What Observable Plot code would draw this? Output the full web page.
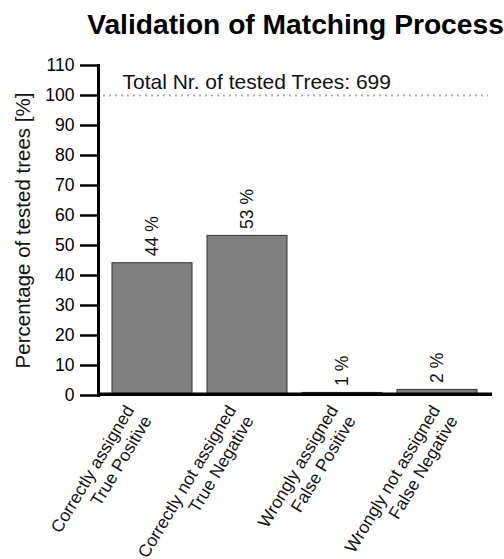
<!DOCTYPE html>
<html>
<head>
<meta charset="utf-8">
<script src="https://cdn.jsdelivr.net/npm/d3@7"></script>
<script src="https://cdn.jsdelivr.net/npm/@observablehq/plot@0.6"></script>
<style>
  html, body { margin: 0; padding: 0; background: white; }
  #wrap { position: relative; width: 504px; height: 559px; }
  #wrap svg { position: absolute; top: 0; left: 0; }
</style>
</head>
<body>
<div id="wrap"></div>
<script>
const categories = [
  "Correctly assigned\nTrue Positive",
  "Correctly not assigned\nTrue Negative",
  "Wrongly assigned\nFalse Positive",
  "Wrongly not assigned\nFalse Negative"
];
const values = [44.1, 53.2, 0.86, 1.86];
const valueLabels = ["44 %", "53 %", "1 %", "2 %"];
const yTicks = [0, 10, 20, 30, 40, 50, 60, 70, 80, 90, 100, 110];
const referenceLine = [100];
const titleText = "Validation of Matching Process";
const totalText = "Total Nr. of tested Trees: 699";
const yLabelText = "Percentage of tested trees [%]";

const data = categories.map((c, i) => ({category: c, value: values[i], label: valueLabels[i]}));
const font = "'Liberation Sans', Arial, sans-serif";

const chart = Plot.plot({
  width: 504,
  height: 559,
  marginTop: 65,
  marginBottom: 164,
  marginLeft: 98,
  marginRight: 12,
  style: {fontFamily: font, background: "white", color: "black"},
  x: {domain: categories, paddingInner: 0.153, paddingOuter: 0.14, axis: null},
  y: {domain: [0, 110], axis: null},
  marks: [
    Plot.ruleY(referenceLine, {stroke: "#aaa", strokeWidth: 2, strokeDasharray: "2,4", insetLeft: 5, insetRight: 4}),
    Plot.barY(data, {x: "category", y: "value", fill: "#808080", stroke: "#333", strokeWidth: 1}),
    Plot.ruleY([0], {stroke: "black", strokeWidth: 3.5, dy: -1.2}),
    Plot.frame({anchor: "left", stroke: "black", strokeWidth: 3}),
    Plot.axisY({ticks: yTicks, tickSize: 18, tickPadding: 6, strokeWidth: 2.5, fontSize: 17.5, label: null}),
    Plot.text(data, {x: "category", y: "value", text: "label", rotate: -90, textAnchor: "start", dy: -7, fontSize: 17.5, fill: "#111"}),
    Plot.text([titleText], {frameAnchor: "top", lineAnchor: "top", dy: -52, fontSize: 28.2, fontWeight: "bold", fill: "black"}),
    Plot.text([totalText], {frameAnchor: "top-left", lineAnchor: "top", dx: 24, dy: 9, textAnchor: "start", fontSize: 21, fill: "#111"}),
    Plot.text([yLabelText], {frameAnchor: "left", rotate: -90, textAnchor: "middle", lineAnchor: "middle", dx: -75, fontSize: 20.5, fill: "#111"})
  ]
});

// category labels sit on their own evenly spaced point scale, wider than the bar spacing
const labels = Plot.plot({
  width: 504,
  height: 559,
  marginTop: 402,
  marginBottom: 0,
  marginLeft: 121,
  marginRight: 75,
  style: {fontFamily: font, background: "transparent", color: "black"},
  x: {type: "point", domain: categories, padding: 0, axis: null},
  marks: [
    Plot.text(categories, {x: d => d, text: d => d, frameAnchor: "top", rotate: -59, textAnchor: "end", lineAnchor: "top", lineHeight: 1.16, fontSize: 17.5, fill: "#111"})
  ]
});

const wrap = document.getElementById("wrap");
wrap.appendChild(chart);
wrap.appendChild(labels);
</script>
</body>
</html>
